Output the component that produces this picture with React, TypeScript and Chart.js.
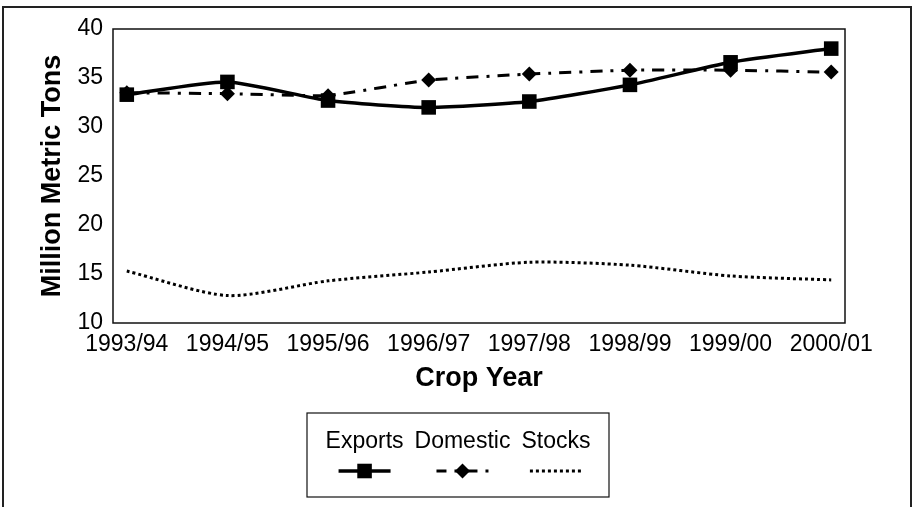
import { useEffect, useRef } from 'react';
import { Chart, registerables } from 'chart.js';

Chart.register(...registerables);

const cropYears = ['1993/94', '1994/95', '1995/96', '1996/97', '1997/98', '1998/99', '1999/00', '2000/01'];
const exportsValues = [33.3, 34.6, 32.7, 32.0, 32.6, 34.3, 36.6, 38.0];
const domesticValues = [33.5, 33.4, 33.2, 34.8, 35.4, 35.8, 35.8, 35.6];
const stocksValues = [15.3, 12.8, 14.3, 15.2, 16.2, 15.9, 14.8, 14.4];
const seriesNames = ['Exports', 'Domestic', 'Stocks'];
const yTicks = [10, 15, 20, 25, 30, 35, 40];

const FONT = "'Liberation Sans', Arial, Helvetica, sans-serif";

const framePlugin = {
  id: 'frame',
  beforeDraw(chart: any) {
    const { ctx } = chart;
    ctx.save();
    ctx.fillStyle = '#ffffff';
    ctx.fillRect(0, 0, chart.width, chart.height);
    ctx.strokeStyle = '#222222';
    ctx.lineWidth = 2;
    ctx.strokeRect(3, 7, chart.width - 6, chart.height + 20);
    ctx.restore();
  },
  afterDatasetsDraw(chart: any) {
    const { ctx, chartArea } = chart;
    ctx.save();
    ctx.strokeStyle = '#111111';
    ctx.lineWidth = 1.5;
    ctx.strokeRect(chartArea.left, chartArea.top, chartArea.right - chartArea.left, chartArea.bottom - chartArea.top);
    ctx.restore();
  },
};

const legendPlugin = {
  id: 'customLegend',
  afterDraw(chart: any) {
    const { ctx } = chart;
    const boxW = 302;
    const boxH = 84;
    const boxTop = 413;
    const cx = chart.width / 2 + 1;
    const boxLeft = cx - boxW / 2;
    ctx.save();
    ctx.strokeStyle = '#111111';
    ctx.lineWidth = 1.2;
    ctx.strokeRect(boxLeft, boxTop, boxW, boxH);
    ctx.font = `23px ${FONT}`;
    ctx.fillStyle = '#000000';
    ctx.textBaseline = 'alphabetic';
    ctx.textAlign = 'left';
    const datasets = chart.data.datasets;
    const gap = 11;
    const widths = datasets.map((d: any) => ctx.measureText(d.label).width);
    const total = widths.reduce((a: number, b: number) => a + b, 0) + gap * (datasets.length - 1);
    let x = cx - total / 2;
    const symY = 471;
    datasets.forEach((d: any, i: number) => {
      ctx.fillStyle = '#000000';
      ctx.fillText(d.label, x, 448);
      const mid = x + widths[i] / 2;
      ctx.save();
      ctx.strokeStyle = d.borderColor;
      ctx.lineWidth = d.borderWidth;
      ctx.setLineDash(d.borderDash || []);
      ctx.lineDashOffset = d.legendDashOffset || 0;
      ctx.beginPath();
      ctx.moveTo(mid - 26, symY);
      ctx.lineTo(mid + 26, symY);
      ctx.stroke();
      ctx.restore();
      if (d.pointRadius > 0) {
        ctx.save();
        ctx.fillStyle = d.pointBackgroundColor;
        ctx.beginPath();
        if (d.pointStyle === 'rect') {
          const s = d.pointRadius * Math.SQRT1_2;
          ctx.rect(mid - s, symY - s, 2 * s, 2 * s);
        } else {
          const r = d.pointRadius;
          ctx.moveTo(mid, symY - r);
          ctx.lineTo(mid + r, symY);
          ctx.lineTo(mid, symY + r);
          ctx.lineTo(mid - r, symY);
          ctx.closePath();
        }
        ctx.fill();
        ctx.restore();
      }
      x += widths[i] + gap;
    });
    ctx.restore();
  },
};

export default function App() {
  const canvasRef = useRef<HTMLCanvasElement | null>(null);

  useEffect(() => {
    document.body.style.margin = '0';
    const canvas = canvasRef.current;
    if (!canvas) return;
    const toPoints = (vals: number[]) => vals.map((v, i) => ({ x: i, y: v }));
    const chart = new Chart(canvas, {
      type: 'line',
      data: {
        datasets: [
          {
            label: seriesNames[0],
            data: toPoints(exportsValues),
            borderColor: '#000000',
            backgroundColor: '#000000',
            borderWidth: 3.5,
            pointStyle: 'rect',
            pointRadius: 10.3,
            pointBackgroundColor: '#000000',
            pointBorderWidth: 0,
            tension: 0.2,
            fill: false,
          } as any,
          {
            label: seriesNames[1],
            data: toPoints(domesticValues),
            borderColor: '#000000',
            backgroundColor: '#000000',
            borderWidth: 3,
            borderDash: [12, 8, 3, 8],
            legendDashOffset: 2,
            pointStyle: 'rectRot',
            pointRadius: 7.5,
            pointBackgroundColor: '#000000',
            pointBorderWidth: 0,
            tension: 0.1,
            fill: false,
          } as any,
          {
            label: seriesNames[2],
            data: toPoints(stocksValues),
            borderColor: '#000000',
            backgroundColor: '#000000',
            borderWidth: 3,
            borderDash: [3, 3],
            pointRadius: 0,
            pointBackgroundColor: '#000000',
            tension: 0.25,
            fill: false,
          } as any,
        ],
      },
      options: {
        responsive: false,
        animation: false,
        events: [],
        layout: { padding: { left: 0, top: 29, right: 69, bottom: 112 } },
        plugins: {
          legend: { display: false },
          tooltip: { enabled: false },
        },
        scales: {
          x: {
            type: 'linear',
            min: -0.137,
            max: 7.137,
            afterBuildTicks: (scale: any) => {
              scale.ticks = cropYears.map((_, i) => ({ value: i }));
            },
            afterFit: (scale: any) => {
              scale.height = 72;
            },
            ticks: {
              callback: (value: any) => cropYears[Math.round(Number(value))] ?? '',
              color: '#000000',
              font: { family: FONT, size: 23 },
              padding: 8,
              maxRotation: 0,
              autoSkip: false,
            },
            grid: { display: false, drawTicks: false },
            border: { display: false },
            title: {
              display: true,
              text: 'Crop Year',
              color: '#000000',
              font: { family: FONT, size: 27, weight: 'bold' },
              padding: { top: 0, bottom: 0 },
            },
          },
          y: {
            min: 10,
            max: 40,
            afterBuildTicks: (scale: any) => {
              scale.ticks = yTicks.map((v) => ({ value: v }));
            },
            afterFit: (scale: any) => {
              scale.width = 113;
            },
            ticks: {
              color: '#000000',
              font: { family: FONT, size: 23 },
              padding: 10,
            },
            grid: { display: false, drawTicks: false },
            border: { display: false },
            title: {
              display: true,
              text: 'Million Metric Tons',
              color: '#000000',
              font: { family: FONT, size: 27, weight: 'bold' },
              padding: { top: 36, bottom: 0 },
            },
          },
        },
      },
      plugins: [framePlugin, legendPlugin],
    } as any);
    return () => chart.destroy();
  }, []);

  return (
    <div style={{ position: 'absolute', left: 0, top: 0, width: 914, height: 507, overflow: 'hidden' }}>
      <canvas ref={canvasRef} width={914} height={507} style={{ width: 914, height: 507, display: 'block' }} />
    </div>
  );
}
